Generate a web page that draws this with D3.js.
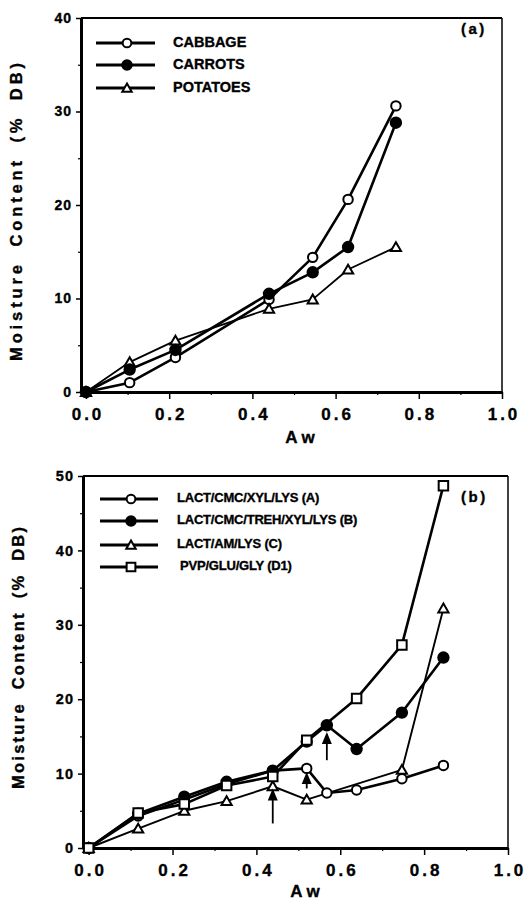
<!DOCTYPE html>
<html><head><meta charset="utf-8">
<script src="https://cdn.jsdelivr.net/npm/d3@7"></script>
<style>
html,body{margin:0;padding:0;background:#fff;}
svg{display:block;}
text{font-family:"Liberation Sans",Arial,Helvetica,sans-serif;font-weight:bold;fill:#000;stroke:#000;stroke-width:0.35px;}
</style></head>
<body><svg id="chart" width="530" height="900"></svg>
<script>
// ---------- Panel (a) data ----------
const awA = [0, 0.105, 0.215, 0.44, 0.545, 0.63, 0.745];
const seriesNamesA = ["CABBAGE", "CARROTS", "POTATOES"];
const cabbage  = [0, 1.0, 3.7, 9.9, 14.4, 20.6, 30.6];
const carrots  = [0, 2.4, 4.5, 10.5, 12.8, 15.5, 28.8];
const potatoes = [0, 3.2, 5.5, 8.9, 9.9, 13.1, 15.5];

// ---------- Panel (b) data ----------
const awB = [0, 0.118, 0.228, 0.329, 0.439, 0.52, 0.568, 0.639, 0.747, 0.846];
const seriesNamesB = ["LACT/CMC/XYL/LYS (A)", "LACT/CMC/TREH/XYL/LYS (B)", "LACT/AM/LYS (C)", "PVP/GLU/GLY (D1)"];
const seriesA = [0, 4.3, 6.5, 8.6, 10.4, 10.7, 7.4, 7.8, 9.3, 11.1];
const seriesB = [0, 4.6, 6.9, 8.9, 10.4, 14.3, 16.5, 13.3, 18.2, 25.6];
const seriesC = [0, 2.6, 5.0, 6.3, 8.3, 6.5, null, null, 10.5, 32.2];
const seriesD = [0, 4.7, 5.9, 8.4, 9.6, 14.5, null, 20.1, 27.3, 48.7];

// arrows (annotations) in panel (b): x, tail value, tip value
const arrowAw   = [0.439, 0.52, 0.568];
const arrowFrom = [3.3, 8.0, 11.8];
const arrowTo   = [8.0, 10.2, 15.6];

// ---------- tick labels ----------
const xTicks = [0, 0.2, 0.4, 0.6, 0.8, 1.0];
const xMinor = [0.1, 0.3, 0.5, 0.7, 0.9];
const yTicksA = [0, 10, 20, 30, 40];
const yMinorA = [5, 15, 25, 35];
const yTicksB = [0, 10, 20, 30, 40, 50];
const yMinorB = [5, 15, 25, 35, 45];

const svg = d3.select("#chart");

function symbolPath(type, size){
  return d3.symbol().type(type).size(size)();
}
const markerDefs = {
  openCircle:  {type: d3.symbolCircle,   size: 70, fill: "#fff"},
  filledCircle:{type: d3.symbolCircle,   size: 85, fill: "#000"},
  triangle:    {type: d3.symbolTriangle, size: 45, fill: "#fff"},
  square:      {type: d3.symbolSquare,   size: 90, fill: "#fff"}
};

function drawPanel(cfg){
  const g = svg.append("g");
  const x = d3.scaleLinear().domain(cfg.xDomain).range(cfg.xRange);
  const y = d3.scaleLinear().domain(cfg.yDomain).range(cfg.yRange);
  const [x0, x1] = cfg.xRange, [yb, yt] = cfg.yRange;

  // top and right frame
  g.append("line").attr("x1", x0).attr("x2", x1).attr("y1", yt).attr("y2", yt)
    .attr("stroke", "#000").attr("stroke-width", 1.8);
  g.append("line").attr("x1", x1).attr("x2", x1).attr("y1", yt).attr("y2", yb)
    .attr("stroke", "#000").attr("stroke-width", 1.5);

  // bottom axis
  const xa = g.append("g").attr("transform", `translate(0,${yb})`)
    .call(d3.axisBottom(x).tickValues(xTicks).tickSize(7).tickSizeOuter(0).tickPadding(9)
      .tickFormat(d3.format(".1f")));
  xa.select(".domain").attr("stroke-width", 3);
  xa.selectAll(".tick line").attr("stroke-width", 1.5);
  xa.selectAll("text").attr("font-size", 17).attr("letter-spacing", 3)
    .attr("dx", 1.5).attr("font-family", null).style("font-family", '"Liberation Sans",Arial,sans-serif');
  g.append("g").attr("transform", `translate(0,${yb})`)
    .call(d3.axisBottom(x).tickValues(xMinor).tickSize(3).tickFormat(""))
    .call(s => s.select(".domain").remove())
    .selectAll("line").attr("stroke-width", 1.2);

  // left axis
  const ya = g.append("g").attr("transform", `translate(${x0},0)`)
    .call(d3.axisLeft(y).tickValues(cfg.yTicks).tickSize(5).tickSizeOuter(0).tickPadding(4));
  ya.select(".domain").attr("stroke-width", 3);
  ya.selectAll(".tick line").attr("stroke-width", 1.5);
  ya.selectAll("text").attr("font-size", cfg.yTickFont).attr("letter-spacing", 1)
    .attr("font-family", null).style("font-family", '"Liberation Sans",Arial,sans-serif');
  g.append("g").attr("transform", `translate(${x0},0)`)
    .call(d3.axisLeft(y).tickValues(cfg.yMinor).tickSize(3).tickFormat(""))
    .call(s => s.select(".domain").remove())
    .selectAll("line").attr("stroke-width", 1.2);

  // axis titles
  g.append("text").attr("x", cfg.xTitlePos[0]).attr("y", cfg.xTitlePos[1])
    .attr("text-anchor", "middle").attr("font-size", 17).text("A w");
  g.append("text")
    .attr("transform", `translate(${cfg.yTitlePos[0]},${cfg.yTitlePos[1]}) rotate(-90)`)
    .attr("text-anchor", "middle").attr("dominant-baseline", "middle")
    .attr("font-size", 16.5).attr("textLength", cfg.yTitleLen).attr("lengthAdjust", "spacing")
    .attr("word-spacing", 6).text("Moisture Content (% DB)");

  // panel tag
  g.append("text").attr("x", cfg.tagPos[0]).attr("y", cfg.tagPos[1])
    .attr("font-size", 15).attr("letter-spacing", 2.5).attr("dominant-baseline", "middle")
    .text(cfg.tag);

  // series
  cfg.series.forEach(s => {
    const pts = cfg.aw.map((a, i) => [a, s.values[i]]).filter(p => p[1] !== null);
    g.append("path").datum(pts)
      .attr("fill", "none").attr("stroke", "#000").attr("stroke-width", s.width)
      .attr("stroke-linejoin", "round")
      .attr("d", d3.line().x(p => x(p[0])).y(p => y(p[1])));
    const m = markerDefs[s.marker];
    g.selectAll(null).data(pts).enter().append("path")
      .attr("transform", p => `translate(${x(p[0])},${y(p[1]) + (s.marker === "triangle" ? 1 : 0)})`)
      .attr("d", symbolPath(m.type, m.size))
      .attr("fill", m.fill).attr("stroke", "#000").attr("stroke-width", 2);
  });

  // legend
  const lg = g.append("g");
  cfg.legendOrder.forEach((s, i) => {
    const ly = cfg.legend.y[i];
    lg.append("line").attr("x1", cfg.legend.x1).attr("x2", cfg.legend.x2)
      .attr("y1", ly).attr("y2", ly).attr("stroke", "#000").attr("stroke-width", 3.2);
    const m = markerDefs[s.marker];
    lg.append("path").attr("transform", `translate(${cfg.legend.xm},${ly + (s.marker === "triangle" ? 1 : 0)})`)
      .attr("d", symbolPath(m.type, m.size * 0.85))
      .attr("fill", m.fill).attr("stroke", "#000").attr("stroke-width", 2);
    lg.append("text").attr("x", cfg.legend.xt[i]).attr("y", ly)
      .attr("dominant-baseline", "middle").attr("font-size", cfg.legend.font)
      .attr("letter-spacing", cfg.legend.ls)
      .text(s.name);
  });

  return {g, x, y};
}

// ---------- Panel (a) ----------
const serA = [
  {name: seriesNamesA[0], values: cabbage,  marker: "openCircle",   width: 2.6},
  {name: seriesNamesA[2], values: potatoes, marker: "triangle",     width: 1.8},
  {name: seriesNamesA[1], values: carrots,  marker: "filledCircle", width: 2.6}
];
drawPanel({
  xDomain: [-0.012, 1], xRange: [81, 502],
  yDomain: [0, 40], yRange: [392, 18],
  yTicks: yTicksA, yMinor: yMinorA, yTickFont: 14,
  aw: awA, series: serA,
  legendOrder: [serA[0], serA[2], serA[1]],
  legend: {x1: 96, x2: 155, xm: 127, y: [43, 65, 88], xt: [173, 173, 173], font: 14.5, ls: 0},
  xTitlePos: [300, 443], yTitlePos: [18, 212], yTitleLen: 298,
  tag: "(a)", tagPos: [461, 30]
});

// ---------- Panel (b) ----------
const serB = [
  {name: seriesNamesB[2], values: seriesC, marker: "triangle",     width: 1.9},
  {name: seriesNamesB[0], values: seriesA, marker: "openCircle",   width: 2.6},
  {name: seriesNamesB[1], values: seriesB, marker: "filledCircle", width: 2.6},
  {name: seriesNamesB[3], values: seriesD, marker: "square",       width: 2.6}
];
const pb = drawPanel({
  xDomain: [-0.0135, 1], xRange: [83, 508],
  yDomain: [0, 50], yRange: [848, 476],
  yTicks: yTicksB, yMinor: yMinorB, yTickFont: 14.5,
  aw: awB, series: serB,
  legendOrder: [serB[1], serB[2], serB[0], serB[3]],
  legend: {x1: 100, x2: 158, xm: 131, y: [499, 521, 545, 567], xt: [177, 177, 177, 180], font: 13, ls: -0.2},
  xTitlePos: [305, 897], yTitlePos: [20, 658], yTitleLen: 262,
  tag: "(b)", tagPos: [461, 498]
});

// arrows
arrowAw.forEach((a, i) => {
  const ax = pb.x(a), y1 = pb.y(arrowFrom[i]), y2 = pb.y(arrowTo[i]);
  pb.g.append("line").attr("x1", ax).attr("x2", ax).attr("y1", y1).attr("y2", y2 + 8)
    .attr("stroke", "#000").attr("stroke-width", 1.8);
  pb.g.append("path")
    .attr("d", `M${ax},${y2} L${ax - 5},${y2 + 12} L${ax + 5},${y2 + 12} Z`)
    .attr("fill", "#000");
});
</script>
</body></html>
